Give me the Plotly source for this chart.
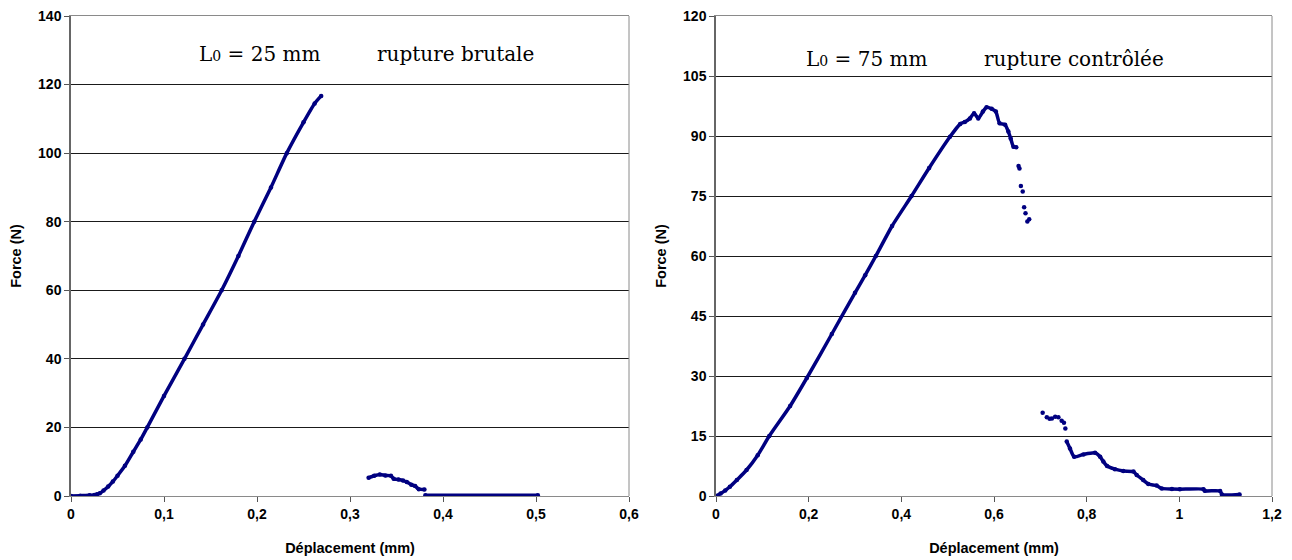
import plotly.graph_objects as go

# Force-displacement records (None separates distinct groups of recorded points)
disp_25 = [0, 0.01, 0.02, 0.025, 0.028, 0.031, 0.035, 0.04, 0.045, 0.05, 0.058, 0.067,
           0.075, 0.082, 0.1, 0.122, 0.142, 0.162, 0.18, 0.197, 0.215, 0.232,
           0.25, 0.262, 0.269,
           None,
           0.320, 0.326, 0.332, 0.338, 0.344, 0.347, 0.352, 0.357, 0.361, 0.366, 0.370,
           0.374, 0.380,
           None,
           0.381, 0.502]
force_25 = [0, 0.1, 0.2, 0.3, 0.5, 0.8, 1.6, 2.8, 4.2, 5.9, 8.8, 12.9,
            16.5, 20, 29.2, 40, 50, 60, 70, 80, 90, 100,
            109, 114.5, 116.7,
            None,
            5.3, 5.9, 6.3, 6.0, 5.9, 5.0, 4.8, 4.5, 4.1, 3.3, 2.9,
            2.0, 1.9,
            None,
            0.2, 0.2]

disp_75 = [0, 0.01, 0.02, 0.03, 0.045, 0.066, 0.09, 0.115, 0.16, 0.196, 0.25, 0.3,
           0.322, 0.345, 0.38, 0.422, 0.46, 0.505, 0.527, 0.537, 0.548, 0.557, 0.566,
           0.576, 0.584, 0.595, 0.604, 0.612, 0.624, 0.631, 0.636, 0.642, 0.648,
           None, 0.653, None, 0.655, None, 0.658, None, 0.662, None, 0.665, None, 0.668,
           None, 0.672, None, 0.676,
           None, 0.705, None, 0.714, None, 0.720, None, 0.725, None, 0.732, None, 0.739,
           None, 0.746, None, 0.751, None, 0.754,
           None, 0.757, 0.764, 0.773, 0.793, 0.818, 0.829, 0.836, 0.844, 0.861, 0.879,
           0.901, 0.908, 0.922, 0.933, 0.951, 0.962, 0.984, 1.001, 1.052, 1.055, 1.088,
           1.092, 1.130]
force_75 = [0, 0.6, 1.4, 2.3, 4.0, 6.5, 10.2, 15, 22.5, 29.5, 40.5, 50.8,
            55.2, 60, 67.5, 75, 82, 89.8, 93, 93.5, 94.4, 95.7, 94.4,
            96.1, 97.2, 96.8, 96.1, 93.2, 92.8, 91.1, 89.4, 87.3, 87.2,
            None, 82.5, None, 81.9, None, 77.5, None, 76.1, None, 72.2, None, 70.7,
            None, 68.6, None, 69.2,
            None, 20.8, None, 19.7, None, 19.3, None, 19.4, None, 19.8, None, 19.7,
            None, 18.8, None, 18.3, None, 16.9,
            None, 13.6, 11.9, 9.8, 10.4, 10.8, 9.8, 8.6, 7.5, 6.7, 6.25,
            6.1, 5.25, 4.0, 3.0, 2.6, 1.9, 1.75, 1.7, 1.7, 1.3, 1.25,
            0.4, 0.4]

# Axis ticks
x_ticks_25 = [0, 0.1, 0.2, 0.3, 0.4, 0.5, 0.6]
x_labels_25 = ["0", "0,1", "0,2", "0,3", "0,4", "0,5", "0,6"]
y_ticks_25 = [0, 20, 40, 60, 80, 100, 120, 140]
x_ticks_75 = [0, 0.2, 0.4, 0.6, 0.8, 1.0, 1.2]
x_labels_75 = ["0", "0,2", "0,4", "0,6", "0,8", "1", "1,2"]
y_ticks_75 = [0, 15, 30, 45, 60, 75, 90, 105, 120]

W, H = 1292, 560
NAVY = "#000080"
SANS = "Liberation Sans, Arial, sans-serif"
SERIF = "DejaVu Serif, serif"


def px_x(p):
    return p / W


def px_y(p):
    return 1 - p / H


fig = go.Figure()
for xs, ys, xa, ya in ((disp_25, force_25, "x", "y"), (disp_75, force_75, "x2", "y2")):
    fig.add_trace(go.Scatter(x=xs, y=ys, mode="lines+markers",
                             line=dict(color=NAVY, width=3.5, shape="spline", smoothing=0.6),
                             marker=dict(color=NAVY, size=4.5),
                             xaxis=xa, yaxis=ya, showlegend=False, connectgaps=False))

tick_font = dict(family=SANS, size=14, color="black", weight="bold")
title_font = dict(family=SANS, size=14.5, color="black", weight="bold")

y_dom = [px_y(496), px_y(16)]


def xaxis(dom, rng, vals, labels, anchor):
    return dict(domain=dom, range=rng, tickvals=vals, ticktext=labels, anchor=anchor,
                automargin=False,
                showgrid=False, zeroline=False, showline=True, linecolor="#8a8a8a",
                linewidth=1, mirror=True, ticks="outside", ticklen=5, tickcolor="#555",
                tickfont=tick_font,
                title=dict(text="Déplacement (mm)", font=title_font, standoff=22))


def yaxis(rng, vals, anchor):
    return dict(domain=y_dom, range=rng, tickvals=vals, anchor=anchor,
                automargin=False,
                showgrid=True, gridcolor="#1a1a1a", gridwidth=1,
                zeroline=True, zerolinecolor="black", zerolinewidth=1.5,
                showline=True, linecolor="#666", linewidth=1.5, mirror=False,
                ticks="outside", ticklen=5, tickcolor="#555", tickfont=tick_font,
                title=dict(text="Force (N)", font=title_font, standoff=13))


fig.update_layout(
    width=W, height=H,
    margin=dict(l=0, r=0, t=0, b=0, autoexpand=False),
    paper_bgcolor="white", plot_bgcolor="white",
    xaxis=xaxis([px_x(71), px_x(629)], [0, 0.6], x_ticks_25, x_labels_25, "y"),
    yaxis=yaxis([0, 140], y_ticks_25, "x"),
    xaxis2=xaxis([px_x(716), px_x(1272)], [0, 1.2], x_ticks_75, x_labels_75, "y2"),
    yaxis2=yaxis([0, 120], y_ticks_75, "x2"),
)

# Right border of each frame in grey
for x0 in (629, 1272):
    fig.add_shape(type="line", xref="paper", yref="paper",
                  x0=px_x(x0), x1=px_x(x0), y0=y_dom[0], y1=y_dom[1],
                  line=dict(color="#8a8a8a", width=1))

notes = [
    ("L<span style='font-size:14px'>0</span> = 25 mm", 197, 54),
    ("rupture brutale", 375, 54),
    ("L<span style='font-size:14px'>0</span> = 75 mm", 804, 59),
    ("rupture contrôlée", 982, 59),
]
for text, x, y in notes:
    fig.add_annotation(text=text, xref="paper", yref="paper", x=px_x(x), y=px_y(y),
                       xanchor="left", yanchor="middle", showarrow=False,
                       font=dict(family=SERIF, size=20, color="black"))

fig.write_html("out.html")
